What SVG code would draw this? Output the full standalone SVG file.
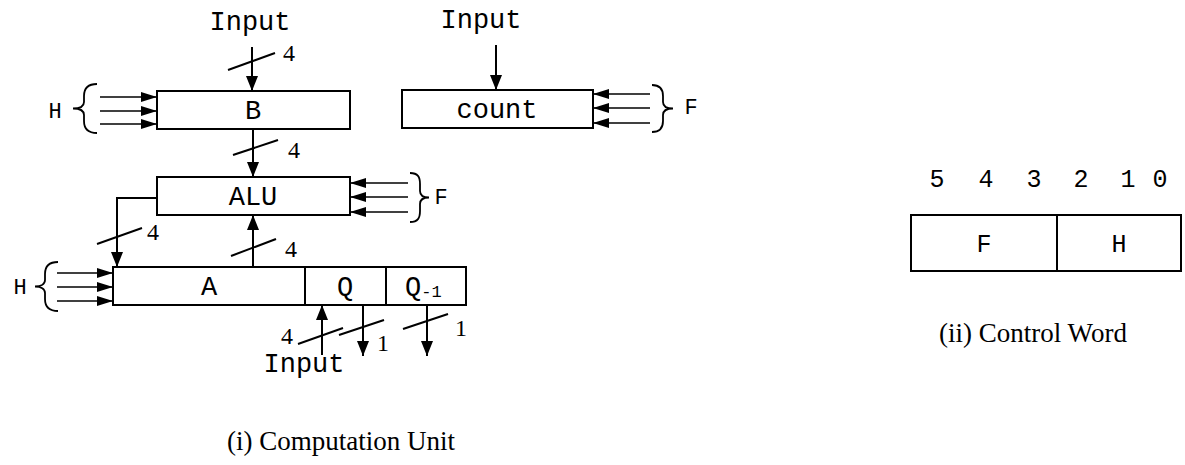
<svg xmlns="http://www.w3.org/2000/svg" width="1185" height="465" viewBox="0 0 1185 465">
<style>
.box{fill:#fff;stroke:#000;stroke-width:2}
.ln{fill:none;stroke:#000;stroke-width:2}
.thin{fill:none;stroke:#000;stroke-width:1.6}
.br{fill:none;stroke:#000;stroke-width:1.8}
.mono{font-family:"Liberation Mono","Courier New",monospace;font-size:27px;fill:#000}
.monos{font-family:"Liberation Mono","Courier New",monospace;font-size:22px;fill:#000}
.dig{font-family:"Liberation Mono","Courier New",monospace;font-size:25px;fill:#000}
.ser{font-family:"Liberation Serif","Times New Roman",serif;font-size:24px;fill:#000}
.cap{font-family:"Liberation Serif","Times New Roman",serif;font-size:27px;fill:#000}
</style>
<defs>
<marker id="av" markerUnits="userSpaceOnUse" markerWidth="15" markerHeight="12" refX="15" refY="6" orient="auto"><path d="M0,0 L15,6 L0,12 z" fill="#000"/></marker>
<marker id="ah" markerUnits="userSpaceOnUse" markerWidth="16" markerHeight="10" refX="16" refY="5" orient="auto"><path d="M0,0 L16,5 L0,10 z" fill="#000"/></marker>
</defs>

<g id="connectors">
<line class="ln" x1="252" y1="47" x2="252" y2="91" marker-end="url(#av)"/>
<line class="ln" x1="228" y1="70" x2="275" y2="53"/>
<line class="ln" x1="253" y1="129" x2="253" y2="177" marker-end="url(#av)"/>
<line class="ln" x1="233" y1="155" x2="278" y2="140"/>
<polyline class="ln" points="157,198 117,198 117,267" marker-end="url(#av)"/>
<line class="ln" x1="97" y1="244" x2="142" y2="228"/>
<line class="ln" x1="253" y1="267" x2="253" y2="215" marker-end="url(#av)"/>
<line class="ln" x1="231" y1="256" x2="276" y2="239"/>
<line class="ln" x1="322" y1="355" x2="322" y2="305" marker-end="url(#av)"/>
<line class="ln" x1="298" y1="344" x2="343" y2="328"/>
<line class="ln" x1="363" y1="305" x2="363" y2="356" marker-end="url(#av)"/>
<line class="ln" x1="339" y1="335" x2="384" y2="320"/>
<line class="ln" x1="427" y1="305" x2="427" y2="356" marker-end="url(#av)"/>
<line class="ln" x1="403" y1="329" x2="448" y2="314"/>
<line class="ln" x1="496" y1="45" x2="496" y2="90" marker-end="url(#av)"/>
<line class="thin" x1="100" y1="97" x2="157" y2="97" marker-end="url(#ah)"/>
<line class="thin" x1="100" y1="111" x2="157" y2="111" marker-end="url(#ah)"/>
<line class="thin" x1="100" y1="124" x2="157" y2="124" marker-end="url(#ah)"/>
<line class="thin" x1="650" y1="94" x2="593" y2="94" marker-end="url(#ah)"/>
<line class="thin" x1="650" y1="108" x2="593" y2="108" marker-end="url(#ah)"/>
<line class="thin" x1="650" y1="123" x2="593" y2="123" marker-end="url(#ah)"/>
<line class="thin" x1="408" y1="183" x2="350" y2="183" marker-end="url(#ah)"/>
<line class="thin" x1="408" y1="197" x2="350" y2="197" marker-end="url(#ah)"/>
<line class="thin" x1="408" y1="212" x2="350" y2="212" marker-end="url(#ah)"/>
<line class="thin" x1="57" y1="273" x2="113" y2="273" marker-end="url(#ah)"/>
<line class="thin" x1="57" y1="287" x2="113" y2="287" marker-end="url(#ah)"/>
<line class="thin" x1="57" y1="301" x2="113" y2="301" marker-end="url(#ah)"/>
<path class="br" d="M97,84 C88,84 84,88 84,96 L84,102 C84,106 80,108.5 73,108.5 C80,108.5 84,111 84,115 L84,121 C84,129 88,133 97,133"/>
<path class="br" d="M58,262 C49,262 45,266 45,274 L45,280 C45,284 41,286.5 35,286.5 C41,286.5 45,289 45,293 L45,299 C45,307 49,311 58,311"/>
<path class="br" d="M652,85 C660,85 663,89 663,96 L663,102 C663,106 666,108.5 673,108.5 C666,108.5 663,111 663,115 L663,121 C663,128 660,132 652,132"/>
<path class="br" d="M410,173 C418,173 420,177 420,184 L420,191 C420,195 423,197.5 429,197.5 C423,197.5 420,200 420,204 L420,211 C420,218 418,222 410,222"/>
</g>

<g id="labels">
<text class="mono" x="250" y="30" text-anchor="middle">Input</text>
<text class="mono" x="481" y="28" text-anchor="middle">Input</text>
<text class="mono" x="304" y="372" text-anchor="middle">Input</text>
<text class="ser" x="283" y="61">4</text>
<text class="ser" x="288" y="158">4</text>
<text class="ser" x="147" y="240">4</text>
<text class="ser" x="285" y="257">4</text>
<text class="ser" x="281" y="344">4</text>
<text class="ser" x="377" y="351">1</text>
<text class="ser" x="455" y="336">1</text>
<text class="monos" x="55" y="118" text-anchor="middle">H</text>
<text class="monos" x="20" y="294" text-anchor="middle">H</text>
<text class="monos" x="691" y="114" text-anchor="middle">F</text>
<text class="monos" x="441" y="204" text-anchor="middle">F</text>
</g>

<g id="node-B">
<rect class="box" x="157" y="91" width="193" height="38"/>
<text class="mono" x="253" y="119" text-anchor="middle">B</text>
</g>
<g id="node-count">
<rect class="box" x="402" y="90" width="191" height="38"/>
<text class="mono" x="497" y="118" text-anchor="middle">count</text>
</g>
<g id="node-ALU">
<rect class="box" x="157" y="177" width="193" height="38"/>
<text class="mono" x="253" y="205" text-anchor="middle">ALU</text>
</g>
<g id="node-A">
<rect class="box" x="113" y="267" width="192" height="38"/>
<text class="mono" x="209" y="295" text-anchor="middle">A</text>
</g>
<g id="node-Q">
<rect class="box" x="305" y="267" width="81" height="38"/>
<text class="mono" x="345" y="295" text-anchor="middle">Q</text>
</g>
<g id="node-Q-1">
<rect class="box" x="386" y="267" width="80" height="38"/>
<text class="mono" x="405" y="295">Q<tspan font-size="17" dy="2">-1</tspan></text>
</g>
<g id="caption-i">
<text class="cap" x="341" y="450" text-anchor="middle">(i) Computation Unit</text>
</g>

<g id="control-word">
<text class="dig" x="937" y="187" text-anchor="middle">5</text>
<text class="dig" x="986" y="187" text-anchor="middle">4</text>
<text class="dig" x="1034" y="187" text-anchor="middle">3</text>
<text class="dig" x="1081" y="187" text-anchor="middle">2</text>
<text class="dig" x="1128" y="187" text-anchor="middle">1</text>
<text class="dig" x="1160" y="187" text-anchor="middle">0</text>
<rect class="box" x="911" y="215" width="270" height="56"/>
<line class="ln" x1="1057" y1="215" x2="1057" y2="271"/>
<text class="dig" x="984" y="252" text-anchor="middle">F</text>
<text class="dig" x="1119" y="252" text-anchor="middle">H</text>
<text class="cap" x="1033" y="342" text-anchor="middle">(ii) Control Word</text>
</g>
</svg>
